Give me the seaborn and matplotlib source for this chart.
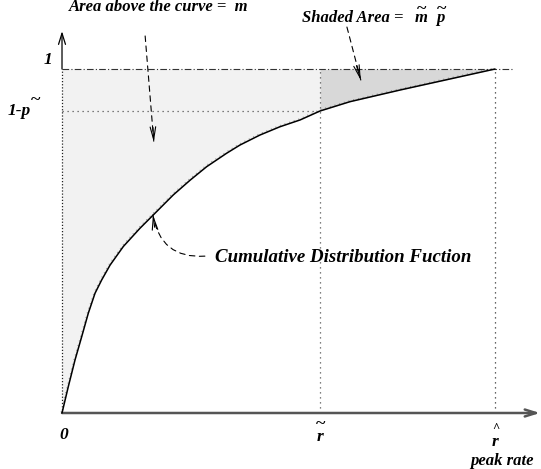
import matplotlib
matplotlib.use("Agg")
import matplotlib.pyplot as plt
import numpy as np
import pandas as pd
import seaborn as sns

# Cumulative distribution of the rate, normalised so the peak rate is 1
rate = [0.0, 0.0145, 0.030, 0.0455, 0.0607, 0.0762, 0.0917, 0.111, 0.1416,
        0.180, 0.211, 0.257, 0.296, 0.334, 0.380, 0.411, 0.457, 0.503,
        0.550, 0.596, 0.665, 0.781, 0.896, 1.0]
cdf = [0.0, 0.0765, 0.154, 0.222, 0.290, 0.348, 0.387, 0.430, 0.484,
       0.537, 0.576, 0.634, 0.677, 0.716, 0.755, 0.779, 0.808, 0.832,
       0.852, 0.878, 0.905, 0.939, 0.971, 1.0]

r_tilde = 0.596        # threshold rate
p_tilde = 0.122        # 1 - CDF(r_tilde)
r_hat = 1.0            # peak rate

sns.set_style("white")
plt.rcParams["font.family"] = ["Liberation Serif", "DejaVu Serif"]

fig = plt.figure(figsize=(5.41, 4.69), dpi=100)
ax = fig.add_axes([0, 0, 1, 1])
ax.set_xlim(-0.1432, 1.1062)
ax.set_ylim(-0.1628, 1.2006)
ax.axis("off")

df = pd.DataFrame({"rate": rate, "cdf": cdf})
x = df["rate"].to_numpy()
y = df["cdf"].to_numpy()

# area above the curve, split at the threshold rate
left = x <= r_tilde + 1e-9
right = x >= r_tilde - 1e-9
ax.fill_between(x[left], y[left], 1.0, color="#f2f2f2", lw=0, zorder=1)
ax.fill_between(x[right], y[right], 1.0, color="#d8d8d8", lw=0, zorder=1)

# guide lines
ax.plot([0, 1.042], [1, 1], color="#333333", lw=0.8, ls=(0, (6, 2, 1, 2)), zorder=2)
ax.plot([0, r_tilde], [1 - p_tilde, 1 - p_tilde], color="#555555", lw=0.9,
        ls=(0, (1, 3)), zorder=2)
ax.plot([r_tilde, r_tilde], [0, 1], color="#555555", lw=0.9, ls=(0, (1, 3)), zorder=2)
ax.plot([r_hat, r_hat], [0, 1], color="#333333", lw=0.9, ls=(0, (1, 3)), zorder=2)

# axes with arrow heads
ax.plot([0, 0], [0, 1], color="#222222", lw=0.9, ls=(0, (1, 1.5)), zorder=3)
ax.annotate("", xy=(0, 1.11), xytext=(0, 1.0),
            arrowprops=dict(arrowstyle="->,head_length=0.8,head_width=0.25",
                            color="black", lw=0.9, shrinkA=0, shrinkB=0), zorder=3)
ax.annotate("", xy=(1.104, 0), xytext=(0, 0),
            arrowprops=dict(arrowstyle="->,head_length=0.8,head_width=0.25",
                            color="#555555", lw=1.8, shrinkA=0, shrinkB=0), zorder=3)

# the CDF curve, with a faint dotted trace just above it
sns.lineplot(data=df, x="rate", y="cdf", ax=ax, color="black", lw=1.1,
             sort=False, zorder=4)
ax.plot(x - 0.002, y + 0.003, color="#888888", lw=0.7, ls=(0, (1, 4)), zorder=3)
ax.set_xlabel("")
ax.set_ylabel("")


def dashed_arrow(start, tip, head_from, conn="arc3,rad=0"):
    ax.annotate("", xy=tip, xytext=start,
                arrowprops=dict(arrowstyle="-", color="black", lw=0.8,
                                ls=(0, (5, 4)), shrinkA=0, shrinkB=0,
                                connectionstyle=conn), zorder=5)
    ax.annotate("", xy=tip, xytext=head_from,
                arrowprops=dict(arrowstyle="->,head_length=0.9,head_width=0.2",
                                color="black", lw=0.8, shrinkA=0, shrinkB=0),
                zorder=5)


txt = dict(fontweight="bold", fontstyle="italic", color="black")
mark = dict(fontweight="bold", color="black", ha="center", va="center")

ax.text(0.224, 1.180, "Area above the curve =  m", ha="center", va="center",
        fontsize=12, **txt)
dashed_arrow((0.192, 1.096), (0.212, 0.788), (0.210, 0.83))

# shaded-area label with tilde accents
ax.text(0.554, 1.1366, "Shaded Area =", ha="left", va="baseline",
        fontsize=12, **txt)
ax.text(0.829, 1.1366, "m", ha="center", va="baseline", fontsize=12, **txt)
ax.text(0.873, 1.1366, "p", ha="center", va="baseline", fontsize=12, **txt)
ax.text(0.831, 1.172, "~", fontsize=13, **mark)
ax.text(0.876, 1.172, "~", fontsize=13, **mark)
dashed_arrow((0.658, 1.122), (0.690, 0.968), (0.680, 1.01))

ax.text(0.353, 0.451, "Cumulative Distribution Fuction", ha="left", va="center",
        fontsize=13.6, **txt)
dashed_arrow((0.330, 0.456), (0.210, 0.576), (0.214, 0.54),
             conn="arc3,rad=-0.45")

# axis labels
ax.text(-0.032, 1.026, "1", ha="center", va="center", fontsize=12.5, **txt)
ax.text(-0.072, 1 - p_tilde, "1-p", ha="right", va="center", fontsize=12.5, **txt)
ax.text(-0.062, 0.908, "~", fontsize=13, **mark)
ax.text(0.005, -0.065, "0", ha="center", va="center", fontsize=12.5, **txt)
ax.text(r_tilde, -0.0698, "r", ha="center", va="center", fontsize=12.5, **txt)
ax.text(r_tilde + 0.002, -0.034, "~", fontsize=13, **mark)
ax.text(r_hat, -0.0843, "r", ha="center", va="center", fontsize=12.5, **txt)
ax.text(r_hat + 0.002, -0.044, "^", fontsize=9, **mark)
ax.text(r_hat + 0.016, -0.1395, "peak rate", ha="center", va="center",
        fontsize=12, **txt)

fig.savefig("out.png", dpi=100)
